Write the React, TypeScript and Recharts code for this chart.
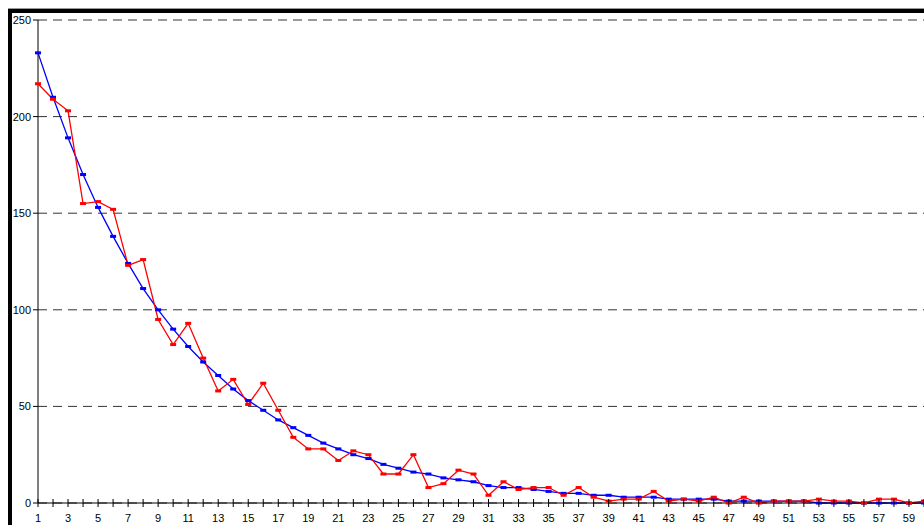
import { LineChart, Line, XAxis, YAxis, CartesianGrid } from 'recharts'

// x categories (1..60), labels shown on odd ones only
const categories = [
  1, 2, 3, 4, 5, 6, 7, 8, 9, 10, 11, 12, 13, 14, 15, 16, 17, 18, 19, 20,
  21, 22, 23, 24, 25, 26, 27, 28, 29, 30, 31, 32, 33, 34, 35, 36, 37, 38, 39, 40,
  41, 42, 43, 44, 45, 46, 47, 48, 49, 50, 51, 52, 53, 54, 55, 56, 57, 58, 59, 60,
]
const xLabels = [1, 3, 5, 7, 9, 11, 13, 15, 17, 19, 21, 23, 25, 27, 29, 31, 33, 35, 37, 39, 41, 43, 45, 47, 49, 51, 53, 55, 57, 59]
const yTicks = [0, 50, 100, 150, 200, 250]

// smooth series (blue)
const fitted = [
  233, 210, 189, 170, 153, 138, 124, 111, 100, 90,
  81, 73, 66, 59, 53, 48, 43, 39, 35, 31,
  28, 25, 23, 20, 18, 16, 15, 13, 12, 11,
  9, 8, 8, 7, 6, 5, 5, 4, 4, 3,
  3, 3, 2, 2, 2, 2, 1, 1, 1, 1,
  1, 1, 0, 0, 0, 0, 0, 0, 0, 0,
]

// observed series (red)
const observed = [
  217, 209, 203, 155, 156, 152, 123, 126, 95, 82,
  93, 75, 58, 64, 51, 62, 48, 34, 28, 28,
  22, 27, 25, 15, 15, 25, 8, 10, 17, 15,
  4, 11, 7, 8, 8, 4, 8, 3, 1, 2,
  2, 6, 1, 2, 1, 3, 0, 3, 0, 1,
  1, 1, 2, 1, 1, 0, 2, 2, 0, 1,
]

const data = categories.map((x, i) => ({ x, fitted: fitted[i], observed: observed[i] }))

const FONT = 'Liberation Sans, Arial, sans-serif'

// Excel-style tick: crosses the axis, label only on odd categories
const XTick = (props: any) => {
  const { x, y, payload } = props
  const v = payload.value
  return (
    <g>
      <line x1={x} x2={x} y1={y - 4} y2={y + 4} stroke="#000" strokeWidth={1} />
      {xLabels.includes(v) && (
        <text x={x} y={y + 19} textAnchor="middle" fontSize={11} fontFamily={FONT} fill="#000">
          {v}
        </text>
      )}
    </g>
  )
}

const dashDot = (color: string) => (props: any) => {
  const { cx, cy, index } = props
  if (cx == null || cy == null) return <g key={index} />
  return <rect key={index} x={cx - 3} y={cy - 1.5} width={6} height={3} fill={color} />
}

export default function App() {
  return (
    <div style={{ position: 'absolute', left: 0, top: 0, width: 924, height: 525, overflow: 'hidden', background: '#fff' }}>
      {/* thick frame on top / left */}
      <div style={{ position: 'absolute', left: 8, top: 8, right: 0, height: 1, background: '#999' }} />
      <div style={{ position: 'absolute', left: 8, top: 9, right: 0, height: 4, background: '#000' }} />
      <div style={{ position: 'absolute', left: 8, top: 9, width: 4, bottom: 0, background: '#000' }} />
      <LineChart
        width={924}
        height={525}
        data={data}
        margin={{ top: 20, right: 0, left: 0, bottom: 0 }}
        style={{ position: 'absolute', left: 0, top: 0 }}
      >
        <CartesianGrid vertical={false} stroke="#333" strokeDasharray="9 6" />
        <XAxis
          dataKey="x"
          type="number"
          domain={[1, 60]}
          ticks={categories}
          interval={0}
          height={22}
          axisLine={{ stroke: '#000' }}
          tickLine={false}
          tickSize={0}
          tickMargin={0}
          tick={<XTick />}
        />
        <YAxis
          domain={[0, 250]}
          ticks={yTicks}
          width={38}
          tickSize={5}
          axisLine={{ stroke: '#000' }}
          tickLine={{ stroke: '#000' }}
          tick={{ fontSize: 11, fill: '#000', fontFamily: FONT }}
        />
        <Line
          dataKey="fitted"
          stroke="#0000ff"
          strokeWidth={1.3}
          dot={dashDot('#0000ff')}
          isAnimationActive={false}
        />
        <Line
          dataKey="observed"
          stroke="#ff0000"
          strokeWidth={1.3}
          dot={dashDot('#ff0000')}
          isAnimationActive={false}
        />
      </LineChart>
    </div>
  )
}
